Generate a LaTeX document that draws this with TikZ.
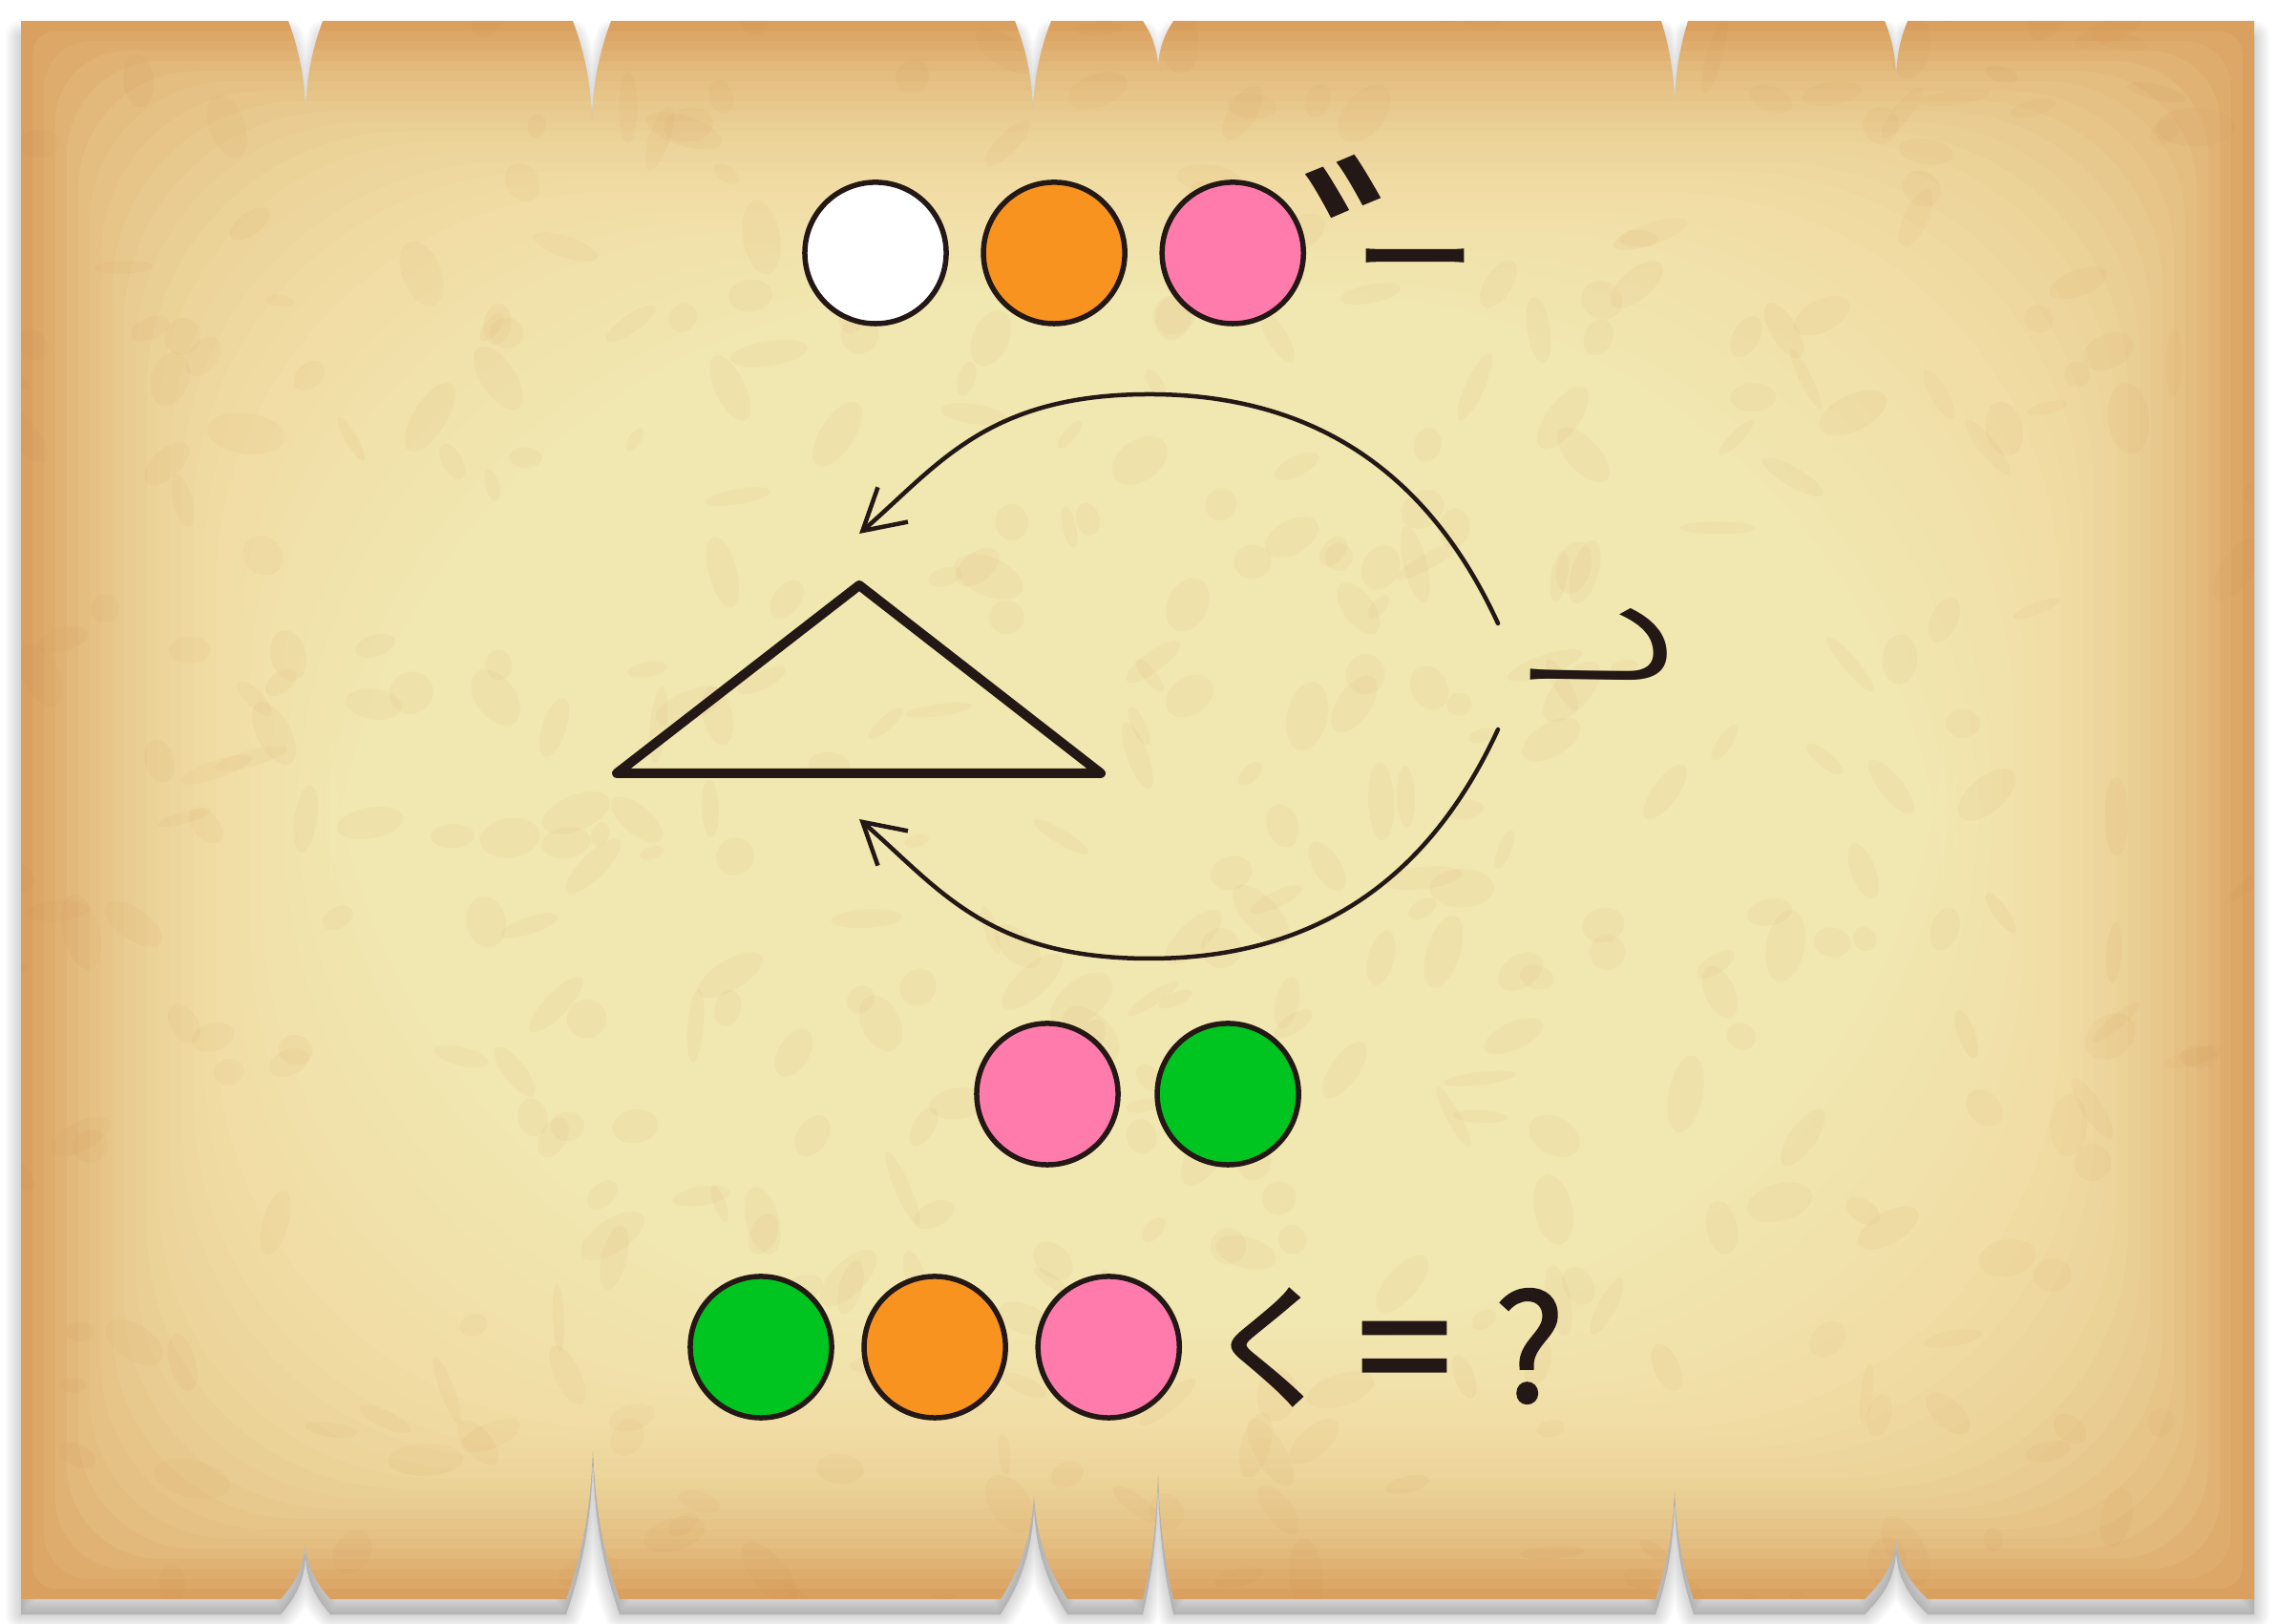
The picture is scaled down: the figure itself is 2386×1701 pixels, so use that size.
\documentclass[tikz,border=0pt]{standalone}
\usepackage{fontspec}
\usepackage{graphicx}
\usepackage{tikz}
\usetikzlibrary{positioning,arrows.meta}
\newfontfamily\jp{Noto Sans CJK JP}
\newfontfamily\jpm{Noto Sans CJK JP}[FakeBold=1.6]
\definecolor{ink}{HTML}{231815}
\definecolor{dotorange}{HTML}{F7931E}
\definecolor{dotpink}{HTML}{FF7BAC}
\definecolor{dotgreen}{RGB}{0,196,32}
\definecolor{pcenter}{RGB}{252,242,188}
\definecolor{pcorner}{RGB}{214,152,86}
\definecolor{blob}{RGB}{200,125,60}
% outline of the torn sheet, notches on top and bottom
\newcommand{\parchpath}[1]{%
  \path[#1] (22,1679)
    \foreach \nx/\nd/\nw in {320/100/18, 620/110/20, 1082/100/19, 1213/50/16, 1754/93/14, 1986/61/12}
      { -- (\nx-\nw,1679) .. controls (\nx-0.6*\nw,1679-0.2*\nd) and (\nx-0.05*\nw,1679-0.5*\nd) .. (\nx,1679-\nd)
        .. controls (\nx+0.05*\nw,1679-0.5*\nd) and (\nx+0.6*\nw,1679-0.2*\nd) .. (\nx+\nw,1679) }
    -- (2361,1679) -- (2361,26)
    \foreach \nx/\nd/\nw in {1986/65/33, 1754/122/20, 1213/142/16, 1083/113/35, 621/165/28, 320/60/26}
      { -- (\nx+\nw,26) .. controls (\nx+0.6*\nw,26+0.2*\nd) and (\nx+0.05*\nw,26+0.5*\nd) .. (\nx,26+\nd)
        .. controls (\nx-0.05*\nw,26+0.5*\nd) and (\nx-0.6*\nw,26+0.2*\nd) .. (\nx-\nw,26) }
    -- (22,26) -- cycle;}

\begin{document}
\begin{tikzpicture}[x=0.01cm, y=0.01cm,
  dot/.style={circle, draw=ink, line width=0.55mm, minimum size=14.8mm, inner sep=0pt, outer sep=0pt},
  kana/.style={text=ink, inner sep=0pt},
  arr/.style={-{Straight Barb[length=4.2mm, width=4.8mm]}, line width=0.45mm, draw=ink, line cap=round}
]
\useasboundingbox[fill=white] (0,0) rectangle (2386,1701);

% sheet: soft shadow, then paper darkening to the rim, with blotches
\foreach \s in {1,...,8}
  {\parchpath{fill=black, draw=black, opacity=0.018, line width=\s*0.4mm, line join=round, yshift=-1.6mm}}
\parchpath{fill=pcorner}
\begin{scope}
  \parchpath{clip}
  \foreach \k in {0,...,27}
    {\fill[pcenter, opacity=0.09, rounded corners=\k*7] (22+\k*12,26+\k*10.5) rectangle (2361-\k*12,1679-\k*10.5);}
  \pgfmathsetseed{11}
  \foreach \i in {1,...,900}
    {\fill[blob, opacity=0.05, rotate around={rnd*180:(rnd*2340+22,rnd*1650+26)}]
      (rnd*2340+22,rnd*1650+26) ellipse ({12+rnd*30} and {6+rnd*16});}
\end{scope}

% top row
\node[dot, fill=white] (w1) at (917,1436) {};
\node[dot, fill=dotorange, right=3.9mm of w1] (o1) {};
\node[dot, fill=dotpink, right=3.9mm of o1] (p1) {};
\node[kana, font=\jpm, anchor=base west] (tail) at (1366,1318)
  {{\fontsize{74}{74}\selectfont ゛}\kern-59.2pt\raisebox{19pt}{\fontsize{36}{36}\selectfont ー}};

% turning triangle
\coordinate (tl) at (646,891);
\coordinate (tt) at (900,1088);
\coordinate (tr) at (1153,891);
\draw[ink, line width=1mm, line join=round, line cap=round] (tl) -- (tt) -- (tr) -- cycle;
\coordinate (ta) at (1569,1048);
\coordinate (tb) at (1204,1288);
\coordinate (tc) at (900,1142);
\coordinate (ba) at (1569,937);
\coordinate (bb) at (1204,697);
\coordinate (bc) at (900,843);
\draw[arr] (ta) .. controls +(-60,130) and +(200,0) .. (tb) .. controls +(-170,0) and +(83,72) .. (tc);
\draw[arr] (ba) .. controls +(-60,-130) and +(200,0) .. (bb) .. controls +(-170,0) and +(83,-72) .. (bc);
\node[kana, rotate=90, font=\jp\fontsize{49}{49}\selectfont] (hook) at (1675,1018) {\scalebox{0.66}[1]{し}};

% middle row
\node[dot, fill=dotpink] (p2) at (1097,555) {};
\node[dot, fill=dotgreen, right=4.1mm of p2] (g2) {};

% bottom row
\node[dot, fill=dotgreen] (g3) at (797,290) {};
\node[dot, fill=dotorange, right=3.4mm of g3] (o3) {};
\node[dot, fill=dotpink, right=3.4mm of o3] (p3) {};
\node[kana, font=\jpm\fontsize{40}{40}\selectfont] (ku) at (1332,290) {く};
\node[kana, font=\jpm\fontsize{34}{34}\selectfont] (eq) at (1471,270) {\scalebox{1}[1.45]{＝}};
\node[kana, font=\jpm\fontsize{44}{44}\selectfont] (qm) at (1602,291) {?};
\end{tikzpicture}
\end{document}
